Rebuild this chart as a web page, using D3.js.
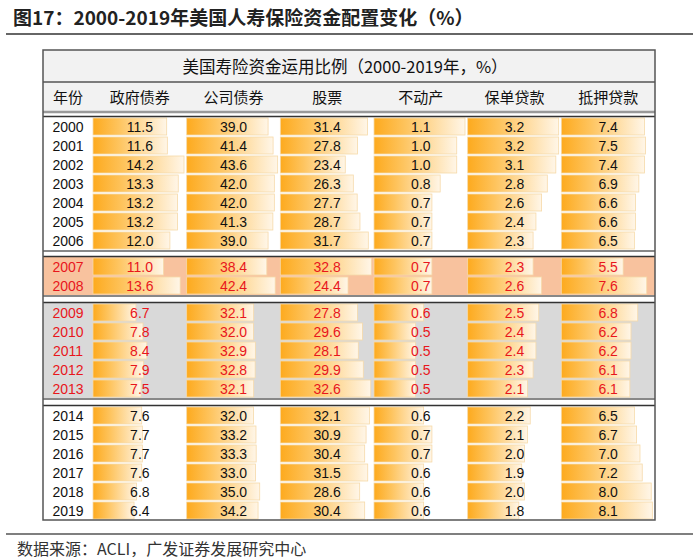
<!DOCTYPE html>
<html><head><meta charset="utf-8">
<script src="https://cdnjs.cloudflare.com/ajax/libs/d3/7.8.5/d3.min.js"></script>
<style>html,body{margin:0;padding:0;background:#fff;}svg{display:block;}</style>
</head><body>
<svg id="chart" width="700" height="560"></svg>
<script>
// ---- data ----
const years = ["2000","2001","2002","2003","2004","2005","2006","2007","2008","2009","2010","2011","2012","2013","2014","2015","2016","2017","2018","2019"];
const columns = ["政府债券","公司债券","股票","不动产","保单贷款","抵押贷款"];
const govBonds   = [11.5,11.6,14.2,13.3,13.2,13.2,12.0,11.0,13.6,6.7,7.8,8.4,7.9,7.5,7.6,7.7,7.7,7.6,6.8,6.4];
const corpBonds  = [39.0,41.4,43.6,42.0,42.0,41.3,39.0,38.4,42.4,32.1,32.0,32.9,32.8,32.1,32.0,33.2,33.3,33.0,35.0,34.2];
const stocks     = [31.4,27.8,23.4,26.3,27.7,28.7,31.7,32.8,24.4,27.8,29.6,28.1,29.9,32.6,32.1,30.9,30.4,31.5,28.6,30.4];
const realEstate = [1.1,1.0,1.0,0.8,0.7,0.7,0.7,0.7,0.7,0.6,0.5,0.5,0.5,0.5,0.6,0.7,0.7,0.6,0.6,0.6];
const policyLoans= [3.2,3.2,3.1,2.8,2.6,2.4,2.3,2.3,2.6,2.5,2.4,2.4,2.3,2.1,2.2,2.1,2.0,1.9,2.0,1.8];
const mortgages  = [7.4,7.5,7.4,6.9,6.6,6.6,6.5,5.5,7.6,6.8,6.2,6.2,6.1,6.1,6.5,6.7,7.0,7.2,8.0,8.1];
const groupYears = [["2000","2001","2002","2003","2004","2005","2006"],["2007","2008"],["2009","2010","2011","2012","2013"],["2014","2015","2016","2017","2018","2019"]];
const title = "图17：2000-2019年美国人寿保险资金配置变化（%）";
const tableTitle = "美国寿险资金运用比例（2000-2019年，%）";
const yearHeader = "年份";
const source = "数据来源：ACLI，广发证券发展研究中心";

// ---- layout / style ----
const series = [govBonds, corpBonds, stocks, realEstate, policyLoans, mortgages];
const W = 700;
const tL = 43, tR = 655, yearColR = 93;
const rowH = 19;
const groupTops = [117, 257, 303, 406];
const groupStyle = [
  {bg:"#ffffff", text:"#111"},
  {bg:"#F8C29E", text:"#E8161C"},
  {bg:"#D9D9D9", text:"#E8161C"},
  {bg:"#ffffff", text:"#111"}
];
const FONT = "'Liberation Sans', Arial, 'Noto Sans CJK SC', sans-serif";
const CJK = "'Noto Sans CJK SC', sans-serif";

const svg = d3.select("#chart");
const defs = svg.append("defs");
const grad = defs.append("linearGradient").attr("id","barGrad")
  .attr("x1","0").attr("x2","1").attr("y1","0").attr("y2","0");
grad.append("stop").attr("offset","0%").attr("stop-color","#FDAA1E");
grad.append("stop").attr("offset","35%").attr("stop-color","#FEC45E");
grad.append("stop").attr("offset","100%").attr("stop-color","#FFF6E8");

// Title
svg.append("text").attr("x",13).attr("y",25)
  .attr("font-family",CJK).attr("font-weight","bold").attr("font-size",19)
  .attr("fill","#222").text(title);
svg.append("line").attr("x1",6).attr("x2",693).attr("y1",34).attr("y2",34)
  .attr("stroke","#333").attr("stroke-width",1.5);

// column scale
const colX = d3.scaleBand().domain(columns).range([yearColR, tR]).paddingInner(0).paddingOuter(0);

// Title row + header row
svg.append("rect").attr("x",tL).attr("y",50).attr("width",tR-tL).attr("height",62).attr("fill","#F2F2F2");
svg.append("text").attr("x",(tL+tR)/2-4).attr("y",73).attr("text-anchor","middle")
  .attr("font-family",CJK).attr("font-size",16.5).attr("fill","#111").text(tableTitle);
svg.append("line").attr("x1",tL).attr("x2",tR).attr("y1",82).attr("y2",82).attr("stroke","#555").attr("stroke-width",1.5);
svg.append("text").attr("x",(tL+yearColR)/2).attr("y",103).attr("text-anchor","middle")
  .attr("font-family",CJK).attr("font-size",15).attr("fill","#111").text(yearHeader);
svg.selectAll("text.hdr").data(columns).join("text").attr("class","hdr")
  .attr("x",d=>colX(d)+colX.bandwidth()/2).attr("y",103).attr("text-anchor","middle")
  .attr("font-family",CJK).attr("font-size",15).attr("fill","#111").text(d=>d);
svg.append("line").attr("x1",tL).attr("x2",tR).attr("y1",112).attr("y2",112).attr("stroke","#999").attr("stroke-width",2.5);

// per-column value scales (0..max)
const maxBar = 91;
const xScales = series.map(s => d3.scaleLinear().domain([0, d3.max(s)]).range([0, maxBar]));

groupYears.forEach((gy, gi) => {
  const top = groupTops[gi];
  const yScale = d3.scaleBand().domain(gy).range([top, top + gy.length*rowH]);
  const bottom = top + gy.length*rowH;
  const st = groupStyle[gi];
  const g = svg.append("g");
  g.append("rect").attr("x",tL).attr("y",top).attr("width",tR-tL).attr("height",bottom-top).attr("fill",st.bg);
  // years
  g.selectAll("text.yr").data(gy).join("text").attr("class","yr")
    .attr("x",(tL+yearColR)/2).attr("y",d=>yScale(d)+rowH/2+5)
    .attr("text-anchor","middle").attr("font-family",FONT).attr("font-size",14).attr("fill",st.text).text(d=>d);
  series.forEach((s, ci) => {
    const cx = colX(columns[ci]);
    const rows = gy.map(y => ({year:y, v:s[years.indexOf(y)]}));
    g.selectAll(null).data(rows).join("rect")
      .attr("x",cx).attr("y",d=>yScale(d.year)+1).attr("width",d=>xScales[ci](d.v)).attr("height",rowH-2)
      .attr("fill","url(#barGrad)").attr("stroke","#F6D9A8").attr("stroke-width",0.8);
    g.selectAll(null).data(rows).join("text")
      .attr("x",cx+colX.bandwidth()/2).attr("y",d=>yScale(d.year)+rowH/2+5)
      .attr("text-anchor","middle").attr("font-family",FONT).attr("font-size",14).attr("fill",st.text)
      .text(d=>d.v.toFixed(1));
  });
  // group borders
  g.append("line").attr("x1",tL).attr("x2",tR).attr("y1",top-0.5).attr("y2",top-0.5).attr("stroke","#333").attr("stroke-width",1.3);
  if (gi < groupYears.length-1) {
    g.append("line").attr("x1",tL).attr("x2",tR).attr("y1",bottom+1).attr("y2",bottom+1).attr("stroke","#888").attr("stroke-width",2);
  }
});

// outer border
svg.append("rect").attr("x",tL).attr("y",50).attr("width",tR-tL).attr("height",520-50)
  .attr("fill","none").attr("stroke","#555").attr("stroke-width",1.5);

// footer
svg.append("line").attr("x1",6).attr("x2",693).attr("y1",534).attr("y2",534).attr("stroke","#555").attr("stroke-width",1.5);
svg.append("text").attr("x",17).attr("y",555).attr("font-family",CJK).attr("font-size",16).attr("fill","#333").text(source);
</script>
</body></html>
